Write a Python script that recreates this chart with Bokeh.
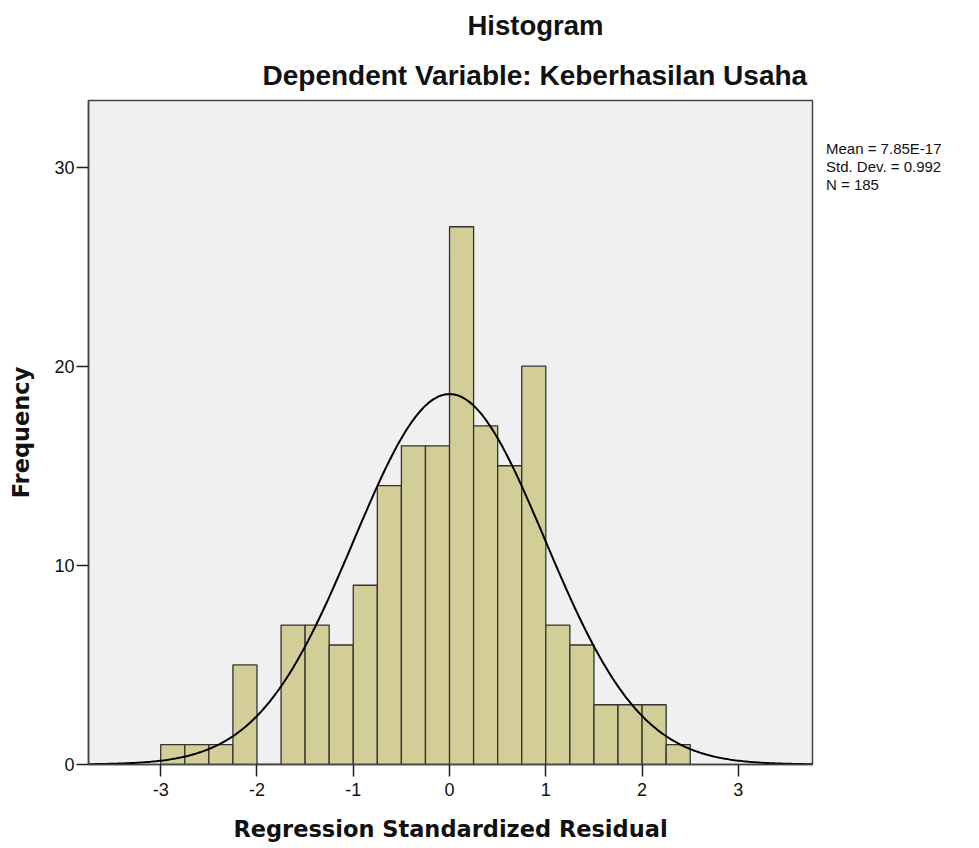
import numpy as np
from bokeh.plotting import figure
from bokeh.models import (ColumnDataSource, FixedTicker, Title, CustomJSTickFormatter,
                          Legend, LegendItem)
from bokeh.core.properties import value
from bokeh.embed import file_html
from bokeh.resources import INLINE

# ---- data ----
bin_start = -3.0
bin_width = 0.25
counts = [1, 1, 1, 5, 0, 7, 7, 6, 9, 14, 16, 16, 27, 17, 15, 20, 7, 6, 3, 3, 3, 1]
mean_val = 7.85e-17
sd_val = 0.992
n_val = 185
x_ticks = [-3, -2, -1, 0, 1, 2, 3]
y_ticks = [0, 10, 20, 30]
title_text = "Histogram"
subtitle_text = "Dependent Variable: Keberhasilan Usaha"
x_label = "Regression Standardized Residual"
y_label = "Frequency"
stats_lines = ["Mean = 7.85E-17", "Std. Dev. = 0.992", "N = 185"]

X0, X1 = -3.75, 3.77
Y0, Y1 = 0, 33.34

lefts = [bin_start + i * bin_width for i in range(len(counts))]
rights = [l + bin_width for l in lefts]
src = ColumnDataSource(dict(left=lefts, right=rights, top=counts, bottom=[0] * len(counts)))

xs = np.linspace(X0, X1, 400)
ys = n_val * bin_width / (sd_val * np.sqrt(2 * np.pi)) * np.exp(-((xs - mean_val) ** 2) / (2 * sd_val ** 2))

p = figure(frame_width=724, frame_height=664, x_range=(X0, X1), y_range=(Y0, Y1), title=None,
           output_backend="svg", toolbar_location=None,
           min_border_left=88, min_border_right=159, min_border_top=100, min_border_bottom=84)

p.background_fill_color = "#f0f0f0"
p.border_fill_color = "white"
p.outline_line_color = "#444444"
p.outline_line_width = 1.5
p.grid.visible = False

p.quad(left="left", right="right", top="top", bottom="bottom", source=src,
       fill_color="#d3ce97", line_color="#333333", line_width=1.3)
p.line(xs, ys, line_color="black", line_width=2)

for ax in (p.xaxis[0], p.yaxis[0]):
    ax.axis_line_color = "#444444"
    ax.axis_line_width = 1.5
    ax.major_tick_line_color = "#222222"
    ax.major_tick_line_width = 1.5
    ax.major_tick_out = 12
    ax.major_tick_in = 0
    ax.minor_tick_line_color = None
    ax.major_label_text_font = "Liberation Sans"
    ax.major_label_text_font_size = "18px"
    ax.major_label_text_color = "#111111"
    ax.axis_label_text_font = "DejaVu Sans"
    ax.axis_label_text_font_style = "bold"
    ax.axis_label_text_font_size = "22.5px"
    ax.axis_label_text_color = "#111111"

p.xaxis.ticker = FixedTicker(ticks=x_ticks)
p.yaxis.ticker = FixedTicker(ticks=y_ticks)
p.xaxis.formatter = CustomJSTickFormatter(code="return tick.toString()")
p.xaxis.axis_label = x_label
p.yaxis.axis_label = y_label
p.xaxis.major_label_standoff = 6
p.yaxis.major_label_standoff = 2
p.xaxis.axis_label_standoff = 17
p.yaxis.axis_label_standoff = 17

# titles (subtitle first = closest to plot)
p.add_layout(Title(text=subtitle_text, align="left", offset=174, standoff=20,
                   text_font="Liberation Sans", text_font_style="bold",
                   text_font_size="28px", text_color="#111111"), "above")
p.add_layout(Title(text=title_text, align="left", offset=379, standoff=14,
                   text_font="Liberation Sans", text_font_style="bold",
                   text_font_size="27.5px", text_color="#111111"), "above")

# statistics text as a glyph-less legend in the right panel
dummy = p.scatter(x=[], y=[], size=1, fill_alpha=0, line_alpha=0)
items = [LegendItem(label=value(s), renderers=[dummy]) for s in stats_lines]
legend = Legend(items=items, location="top_left", orientation="vertical",
                margin=0, padding=14, spacing=0,
                glyph_width=0, glyph_height=18, label_height=18, label_standoff=14,
                label_text_font="Liberation Sans", label_text_font_size="15px",
                label_text_color="#111111",
                title=" ", title_text_font_size="15px", title_standoff=22,
                border_line_color=None, background_fill_alpha=0,
                click_policy="none")
p.add_layout(legend, "right")

open("out.html", "w").write(file_html(p, INLINE))
